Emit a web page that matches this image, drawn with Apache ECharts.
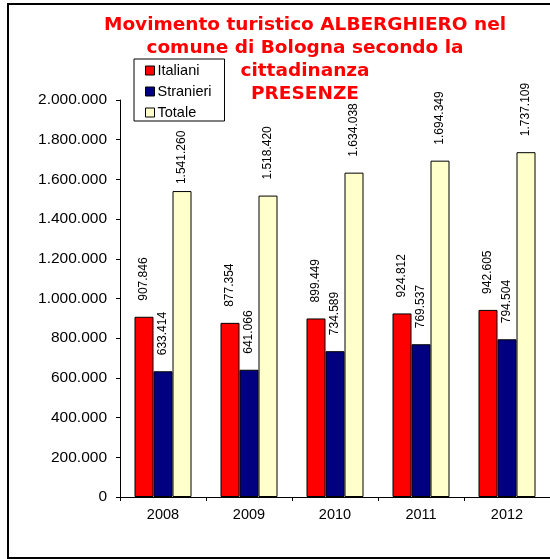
<!DOCTYPE html>
<html>
<head>
<meta charset="utf-8">
<script src="https://cdn.jsdelivr.net/npm/echarts@6/dist/echarts.min.js"></script>
<style>
  html, body { margin: 0; padding: 0; background: #fff; }
  #chart { width: 550px; height: 559px; }
</style>
</head>
<body>
<div id="chart"></div>
<script>
var anni = ["2008", "2009", "2010", "2011", "2012"];
var italiani = [907846, 877354, 899449, 924812, 942605];
var stranieri = [633414, 641066, 734589, 769537, 794504];
var totale = [1541260, 1518420, 1634038, 1694349, 1737109];

var font = "Liberation Sans, Arial, sans-serif";

function fmt(v) {
  return String(v).replace(/\B(?=(\d{3})+(?!\d))/g, ".");
}

function serie(nome, dati, colore) {
  return {
    name: nome,
    type: "bar",
    data: dati,
    barWidth: 19,
    barGap: "0%",
    itemStyle: { color: colore, borderColor: "#000", borderWidth: 1 },
    label: {
      show: true,
      position: "top",
      rotate: 90,
      align: "left",
      verticalAlign: "middle",
      distance: 16,
      fontFamily: font,
      fontSize: 12,
      color: "#000",
      formatter: function (p) { return fmt(p.value); }
    }
  };
}

var sTotale = serie("Totale", totale, "#FFFFCC");
// in the original the first total label sits closer to its bar
sTotale.data = totale.map(function (v, i) {
  return i === 0 ? { value: v, label: { distance: 7 } } : v;
});

var myChart = echarts.init(document.getElementById("chart"));
myChart.setOption({
  animation: false,
  backgroundColor: "#fff",
  title: {
    text: "Movimento turistico ALBERGHIERO nel\ncomune di Bologna secondo la\ncittadinanza\nPRESENZE",
    left: 300,
    top: 9,
    textAlign: "center",
    textStyle: {
      color: "#FF0000",
      fontFamily: "DejaVu Sans, sans-serif",
      fontWeight: "bold",
      fontSize: 18.5,
      lineHeight: 23
    }
  },
  legend: {
    orient: "vertical",
    left: 134,
    top: 59,
    padding: [4, 13, 1, 11],
    borderColor: "#000",
    borderWidth: 1,
    backgroundColor: "#fff",
    itemWidth: 9,
    itemHeight: 9,
    itemGap: 6,
    icon: "rect",
    itemStyle: { borderColor: "#000", borderWidth: 1 },
    textStyle: { fontFamily: font, fontSize: 14.5, lineHeight: 14, color: "#000", padding: [0, 0, 0, -2] },
    data: ["Italiani", "Stranieri", "Totale"]
  },
  grid: { left: 120, right: -3, top: 100, bottom: 62, containLabel: false },
  xAxis: {
    type: "category",
    data: anni,
    axisLine: { lineStyle: { color: "#000", width: 1 } },
    axisTick: { show: true, length: 4, lineStyle: { color: "#000" } },
    axisLabel: { fontFamily: font, fontSize: 14.5, color: "#000", margin: 10 }
  },
  yAxis: {
    type: "value",
    min: 0,
    max: 2000000,
    interval: 200000,
    splitLine: { show: false },
    axisLine: { show: true, lineStyle: { color: "#000", width: 1 } },
    axisTick: { show: true, length: 4, lineStyle: { color: "#000" } },
    axisLabel: { fontFamily: font, fontSize: 15.5, color: "#000", margin: 13, formatter: fmt }
  },
  graphic: [{
    type: "rect",
    shape: { x: 8, y: 4, width: 580, height: 554 },
    style: { fill: "none", stroke: "#000", lineWidth: 2 },
    silent: true,
    z: 100
  }],
  series: [
    serie("Italiani", italiani, "#FF0000"),
    serie("Stranieri", stranieri, "#000080"),
    sTotale
  ]
});

window.onresize = function () { myChart.resize(); };
</script>
</body>
</html>
